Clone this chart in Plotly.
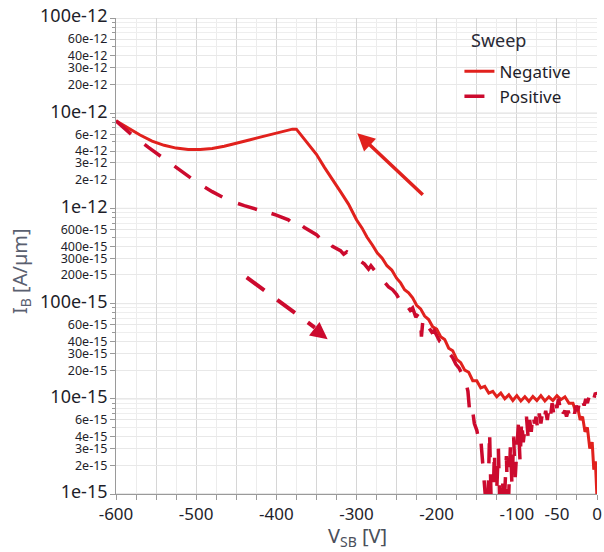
import plotly.graph_objects as go

# ---------------- data ----------------
neg_v = [-600, -585, -570, -555, -540, -525, -510, -495, -480, -465, -450, -435, -420, -405,
         -390, -380, -375, -368, -360, -350, -340, -330, -320, -310, -300, -293, -287, -280,
         -274, -268, -262, -256, -250, -245, -240, -235,
         -230, -225, -220, -215, -210, -205, -200, -195, -190, -185, -180, -175, -170, -165,
         -160, -155, -150, -145, -140, -135, -130, -125, -120, -115, -110, -105, -100, -95,
         -90, -85, -80, -75, -70, -65, -60, -55, -50, -45, -40, -35, -30, -27, -24, -21,
         -18, -15, -12, -9, -6, -4, -2, 0]
neg_i = [8.3e-12, 7.0e-12, 5.9e-12, 5.1e-12, 4.6e-12, 4.3e-12, 4.15e-12, 4.15e-12, 4.25e-12,
         4.5e-12, 4.8e-12, 5.2e-12, 5.6e-12, 6.0e-12, 6.5e-12, 6.8e-12, 6.8e-12, 5.7e-12,
         4.8e-12, 3.7e-12, 2.7e-12, 2.04e-12, 1.5e-12, 1.11e-12, 7.6e-13, 6.2e-13, 5.0e-13,
         4.1e-13, 3.4e-13, 3.0e-13, 2.5e-13, 2.25e-13, 1.85e-13, 1.65e-13, 1.4e-13, 1.3e-13,
         115e-15, 96e-15, 88e-15, 74e-15, 68e-15, 57e-15, 54e-15, 45e-15, 42e-15, 34e-15,
         32e-15, 26e-15, 24e-15, 20e-15, 19e-15, 15.5e-15, 15.5e-15, 13e-15, 13.5e-15,
         11.5e-15, 12e-15, 10.5e-15, 11.5e-15, 10e-15, 11e-15, 9.6e-15, 10.8e-15, 9.5e-15,
         10.5e-15, 9.4e-15, 10.6e-15, 9.6e-15, 10.8e-15, 9.5e-15, 10.5e-15, 9.6e-15,
         10.8e-15, 9.8e-15, 10.5e-15, 9.0e-15, 9.0e-15, 7.5e-15, 8.0e-15, 6.0e-15, 6.5e-15,
         4.5e-15, 5.0e-15, 3.0e-15, 3.5e-15, 1.8e-15, 2.2e-15, 0.9e-15]

pos_v = [-600, -590, -580, -560, -540, -520, -500, -480, -460, -440, -425, -420, -417, -412,
         -400, -385, -380, -377, -365, -350, -345, -340, -330, -320, -316, -312, -300, -290,
         -285, -282, -275, -265, -260, -255,
         -250, -246, -243, -240, -236, -233, -230, -226, -223, -220, -219, -217, -214, -210,
         -206, -203, -200, -196, -192, -188, -184, -180, -176, -172, -168, -164, -161, -159,
         -156, -153, -150, -147, -145, -142, -140, -138, -136, -134, -132, -130, -128, -126,
         -123, -121, -118, -116, -113, -111, -108, -106, -104, -102, -100, -98, -96, -94,
         -92, -90, -88, -86, -84, -82, -80, -78, -76, -74, -72, -70, -68, -66, -64, -62,
         -60, -58, -56, -54, -52, -50, -48, -46, -44, -42, -40, -38, -36, -34, -32, -30,
         -28, -26, -24, -22, -20, -18, -16, -14, -12, -10, -8, -6, -4, -2, 0]
pos_i = [8.3e-12, 7.0e-12, 5.9e-12, 4.4e-12, 3.3e-12, 2.5e-12, 1.9e-12, 1.5e-12, 1.22e-12,
         1.07e-12, 9.9e-13, 9.5e-13, 1.0e-12, 9.2e-13, 8.5e-13, 7.6e-13, 7.0e-13, 7.5e-13,
         6.3e-13, 5.3e-13, 4.8e-13, 5.0e-13, 4.0e-13, 3.6e-13, 3.3e-13, 3.5e-13, 3.0e-13,
         2.6e-13, 2.3e-13, 2.5e-13, 2.1e-13, 1.7e-13, 1.5e-13, 1.4e-13,
         125e-15, 108e-15, 112e-15, 98e-15, 92e-15, 85e-15, 90e-15, 72e-15, 78e-15, 66e-15,
         45e-15, 70e-15, 60e-15, 56e-15, 50e-15, 52e-15, 47e-15, 40e-15, 38e-15, 33e-15,
         30e-15, 27e-15, 23e-15, 21e-15, 18e-15, 15.5e-15, 12e-15, 7.6e-15, 8.5e-15,
         5.5e-15, 4.7e-15, 3.5e-15, 3.8e-15, 1.95e-15, 1.4e-15, 0.7e-15, 0.8e-15, 4.5e-15,
         0.8e-15, 0.6e-15, 2.8e-15, 0.7e-15, 3.0e-15, 0.6e-15, 1.5e-15, 0.7e-15, 2.5e-15,
         0.6e-15, 3.2e-15, 1.2e-15, 4.0e-15, 1.5e-15, 3.0e-15, 5.5e-15, 2.2e-15, 6.0e-15,
         3.5e-15, 5.0e-15, 6.5e-15, 4.0e-15, 6.0e-15, 4.5e-15, 7.0e-15, 5.5e-15, 6.5e-15,
         4.8e-15, 7.0e-15, 5.5e-15, 7.2e-15, 6.0e-15, 7.5e-15, 6.0e-15, 8.0e-15, 6.5e-15,
         9.0e-15, 7.0e-15, 9.5e-15, 8.0e-15, 10e-15, 8.0e-15, 9.0e-15, 7.0e-15, 7.5e-15,
         6.5e-15, 7.5e-15, 6.5e-15, 7.0e-15, 8.0e-15, 7.0e-15, 8.5e-15, 7.5e-15, 9.0e-15,
         8.0e-15, 9.5e-15, 8.5e-15, 10e-15, 9.0e-15, 10.5e-15, 9.5e-15, 11e-15, 10e-15,
         11.5e-15, 11e-15]

x_tickvals = [-600, -550, -500, -450, -400, -350, -300, -250, -200, -150, -100, -50, 0]
x_ticktext = ["-600", "", "-500", "", "-400", "", "-300", "", "-200", "", "-100", "-50", "0"]

y_decades = [1e-15, 1e-14, 1e-13, 1e-12, 1e-11, 1e-10]
y_decade_text = ["1e-15", "10e-15", "100e-15", "1e-12", "10e-12", "100e-12"]
y_minor_mult = [2, 3, 4, 6]
y_unlabeled_mult = [5, 7, 8, 9]

NEG_COLOR = "#e1211d"
POS_COLOR = "#cc0a2e"
FONT = "Noto Sans"

# ---------------- tick construction ----------------
y_tickvals, y_ticktext = [], []
for d, txt in zip(y_decades, y_decade_text):
    y_tickvals.append(d)
    y_ticktext.append('<span style="font-size:18px">%s</span>' % txt)
    if d < 1e-10:
        mant, exp = txt.split("e")
        for m in y_minor_mult:
            y_tickvals.append(m * d)
            y_ticktext.append("%de%s" % (m * int(mant), exp))
y_minor_vals = [m * d for d in y_decades[:-1] for m in y_unlabeled_mult]

# ---------------- figure ----------------
fig = go.Figure()
fig.add_trace(go.Scatter(x=neg_v, y=neg_i, mode="lines", name="Negative",
                         line=dict(color=NEG_COLOR, width=3)))
fig.add_trace(go.Scatter(x=pos_v, y=pos_i, mode="lines", name="Positive",
                         line=dict(color=POS_COLOR, width=3.5, dash="20px,17px")))

# darker decade gridlines
for d in y_decades:
    fig.add_shape(type="line", xref="paper", x0=0, x1=1, yref="y", y0=d, y1=d,
                  line=dict(color="#cfcfcf", width=1), layer="below")

# arrows
fig.add_annotation(x=-299, y=-11.21, ax=67, ay=63, xref="x", yref="y", text="",
                   showarrow=True, arrowhead=2, arrowsize=1.0, arrowwidth=3.5,
                   arrowcolor=NEG_COLOR)
fig.add_shape(type="line", xref="x", yref="y", x0=-437, y0=1.89e-13, x1=-352, y1=5.6e-14,
              line=dict(color=POS_COLOR, width=4, dash="22px,16px"))
fig.add_annotation(x=-336, y=-13.374, ax=-14, ay=-11, xref="x", yref="y", text="",
                   showarrow=True, arrowhead=2, arrowsize=0.85, arrowwidth=4,
                   arrowcolor=POS_COLOR)

# axis titles
fig.add_annotation(text="I<sub>B</sub> [A/µm]", xref="paper", yref="paper",
                   x=-0.1975, y=0.4685, textangle=-90, showarrow=False,
                   xanchor="center", yanchor="middle",
                   font=dict(family=FONT, size=20, color="#5a6070"))
fig.add_annotation(text="V<sub>SB</sub> [V]", xref="paper", yref="paper",
                   x=0.502, y=-0.09, showarrow=False, xanchor="center", yanchor="middle",
                   font=dict(family=FONT, size=20, color="#4a4f5a"))
# legend title
fig.add_annotation(text="Sweep", xref="paper", yref="paper",
                   x=0.733, y=0.953, showarrow=False, xanchor="left", yanchor="middle",
                   font=dict(family=FONT, size=18, color="#2a2a35"))

fig.update_layout(
    width=604, height=552,
    margin=dict(l=116, r=2, t=18, b=58),
    paper_bgcolor="white", plot_bgcolor="white",
    font=dict(family=FONT, color="#1e1e2a"),
    showlegend=True,
    legend=dict(x=0.714, y=0.925, xanchor="left", yanchor="top",
                bgcolor="rgba(0,0,0,0)",
                font=dict(family=FONT, size=17, color="#1e1e2a"),
                tracegroupgap=0),
    xaxis=dict(range=[-600, 0], tickmode="array", tickvals=x_tickvals, ticktext=x_ticktext,
               tickfont=dict(family=FONT, size=17, color="#1e1e2a"),
               ticklabeloverflow="allow",
               ticks="outside", ticklen=5, tickcolor="#9a9a9a",
               showline=True, linecolor="#9a9a9a", linewidth=1,
               showgrid=True, gridcolor="#d6d6d6", gridwidth=1, zeroline=False,
               minor=dict(dtick=25, tick0=0, ticks="outside", ticklen=5,
                          tickcolor="#9a9a9a", showgrid=True, gridcolor="#ececec")),
    yaxis=dict(type="log", range=[-15, -10], tickmode="array", tickvals=y_tickvals,
               ticktext=y_ticktext,
               tickfont=dict(family=FONT, size=12.5, color="#1e1e2a"),
               ticks="outside", ticklen=5, tickcolor="#9a9a9a",
               showline=True, linecolor="#9a9a9a", linewidth=1,
               showgrid=True, gridcolor="#e8e8e8", gridwidth=1, zeroline=False,
               minor=dict(tickmode="array", tickvals=y_minor_vals, ticks="outside",
                          ticklen=3, tickcolor="#9a9a9a", showgrid=True,
                          gridcolor="#eeeeee")),
)

fig.write_html("out.html")
